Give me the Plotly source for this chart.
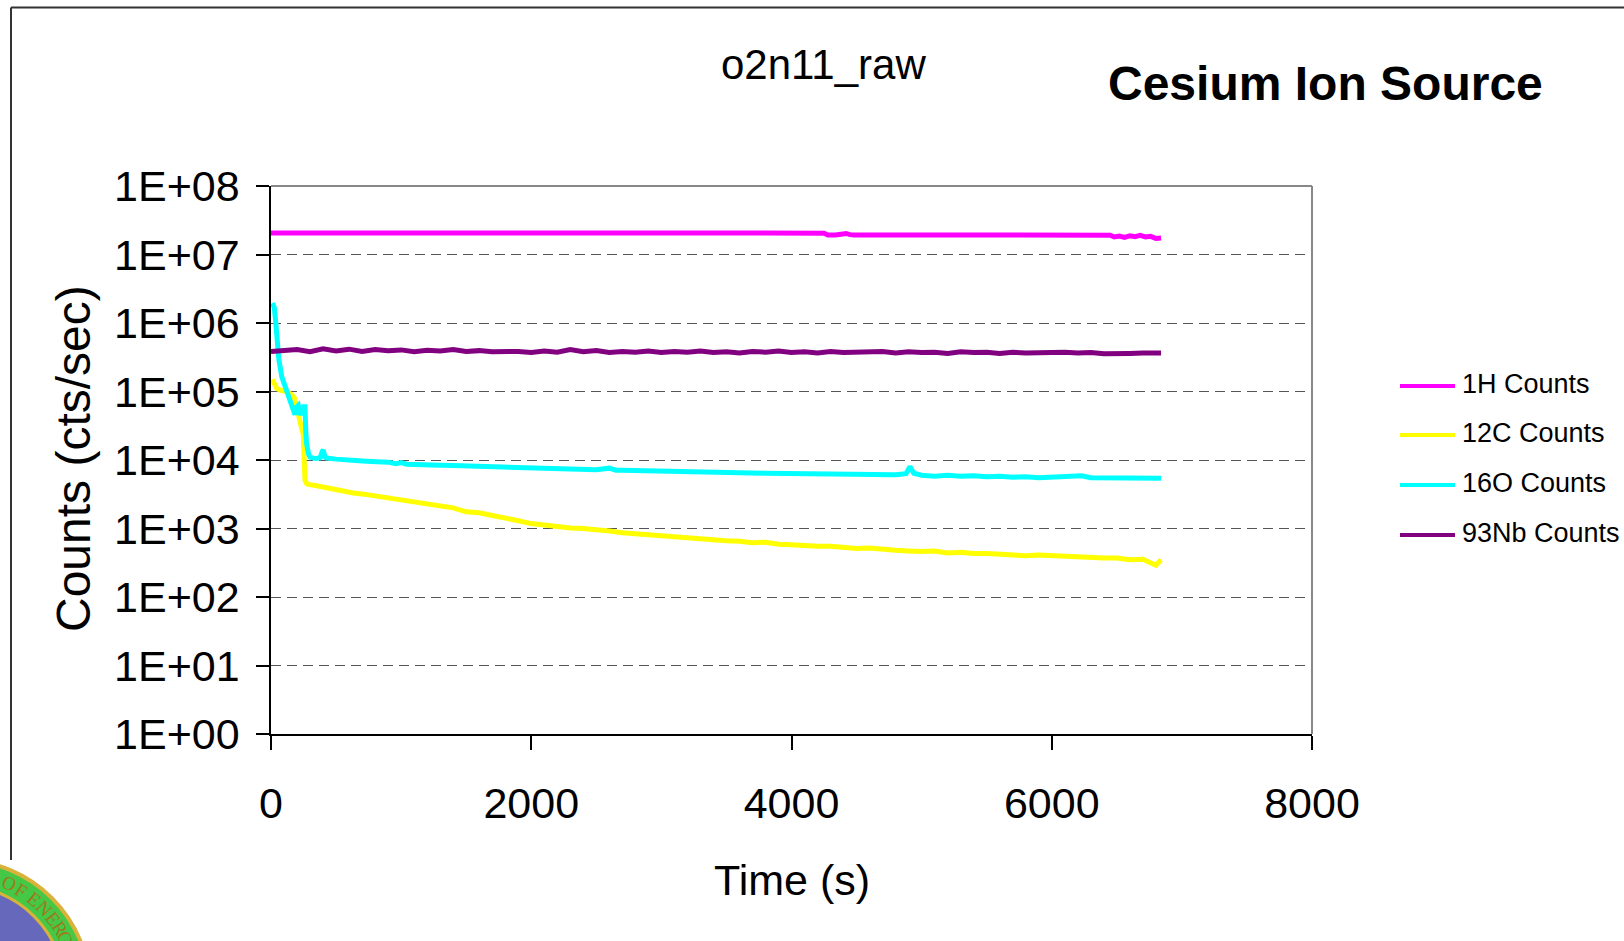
import math
import plotly.graph_objects as go

# ---- series data (time in s, counts in cts/sec) ----
t_h = [0, 500, 1000, 1500, 2000, 2500, 3000, 3500, 4000, 4250, 4280, 4310, 4340,
       4380, 4420, 4450, 4480, 5000, 5500, 6000, 6450, 6480, 6520, 6560, 6600,
       6640, 6680, 6720, 6760, 6800, 6840]
h_counts = [2.06e7, 2.06e7, 2.06e7, 2.05e7, 2.05e7, 2.05e7, 2.05e7, 2.05e7, 2.05e7,
            2.05e7, 1.93e7, 1.97e7, 1.93e7, 1.98e7, 2.03e7, 1.95e7, 1.93e7, 1.93e7,
            1.92e7, 1.92e7, 1.91e7, 1.80e7, 1.86e7, 1.78e7, 1.88e7, 1.82e7, 1.90e7,
            1.80e7, 1.84e7, 1.72e7, 1.74e7]

t_c = [10, 25, 45, 69, 120, 159, 180, 197, 212, 223, 235, 248, 255, 261, 275, 287,
       350, 428, 500, 560, 632, 700, 800, 939, 1000, 1100, 1200, 1300, 1400, 1500,
       1600, 1700, 1800, 1900, 2000, 2100, 2200, 2300, 2400, 2500, 2600, 2700, 2800,
       2900, 3000, 3100, 3200, 3300, 3400, 3500, 3600, 3700, 3800, 3900, 4000, 4100,
       4200, 4300, 4400, 4500, 4600, 4700, 4800, 4900, 5000, 5100, 5200, 5300, 5400,
       5500, 5600, 5700, 5800, 5900, 6000, 6100, 6200, 6300, 6400, 6500, 6600, 6700,
       6760, 6800, 6840]
c_counts = [1.5e5, 1.3e5, 1.1e5, 1.05e5, 1.0e5, 9.0e4, 8.0e4, 6.0e4, 4.2e4, 3.2e4,
            2.9e4, 2.4e4, 1.2e4, 5.1e3, 4.5e3, 4.4e3, 4.2e3, 3.9e3, 3.8e3, 3.5e3,
            3.3e3, 3.2e3, 3.0e3, 2.8e3, 2.65e3, 2.45e3, 2.35e3, 2.15e3, 2.0e3, 1.75e3,
            1.7e3, 1.55e3, 1.45e3, 1.3e3, 1.18e3, 1.12e3, 1.08e3, 1.02e3, 1.0e3, 9.4e2,
            9.2e2, 8.7e2, 8.4e2, 8.0e2, 7.6e2, 7.5e2, 7.2e2, 7.0e2, 6.8e2, 6.6e2, 6.5e2,
            6.2e2, 6.3e2, 5.9e2, 5.8e2, 5.6e2, 5.5e2, 5.5e2, 5.2e2, 5.1e2, 5.2e2, 4.9e2,
            4.8e2, 4.7e2, 4.6e2, 4.7e2, 4.4e2, 4.5e2, 4.3e2, 4.3e2, 4.2e2, 4.2e2, 4.0e2,
            4.1e2, 4.0e2, 3.9e2, 3.8e2, 3.8e2, 3.7e2, 3.7e2, 3.5e2, 3.55e2, 3.2e2,
            2.9e2, 3.5e2]

t_o = [10, 25, 35, 45, 60, 82, 100, 120, 150, 170, 184, 198, 210, 225, 236, 250, 261,
       268, 274, 290, 300, 340, 377, 395, 402, 415, 428, 500, 553, 650, 735, 800, 900,
       960, 1000, 1043, 1100, 1200, 1300, 1400, 1500, 1600, 1700, 1800, 1900, 2000,
       2100, 2200, 2300, 2400, 2500, 2600, 2650, 2700, 2800, 2900, 3000, 3200, 3400,
       3600, 3800, 4000, 4200, 4400, 4600, 4800, 4880, 4910, 4940, 5000, 5100, 5200,
       5300, 5400, 5500, 5600, 5700, 5800, 5900, 6000, 6100, 6230, 6300, 6400, 6500,
       6600, 6700, 6840]
o_counts = [1.95e6, 1.7e6, 1.1e6, 5.6e5, 3.0e5, 1.66e5, 1.3e5, 1.05e5, 6.5e4, 5.0e4,
            4.6e4, 6.0e4, 6.3e4, 4.8e4, 4.8e4, 6.0e4, 6.0e4, 2.5e4, 1.7e4, 1.2e4,
            1.1e4, 1.05e4, 1.07e4, 1.35e4, 1.4e4, 1.1e4, 1.07e4, 1.03e4, 1.0e4, 9.8e3,
            9.6e3, 9.5e3, 9.3e3, 8.8e3, 9.2e3, 8.7e3, 8.7e3, 8.5e3, 8.4e3, 8.3e3, 8.2e3,
            8.1e3, 8.0e3, 7.8e3, 7.9e3, 7.6e3, 7.6e3, 7.5e3, 7.4e3, 7.3e3, 7.2e3, 7.6e3,
            7.1e3, 7.1e3, 7.0e3, 6.9e3, 6.9e3, 6.8e3, 6.6e3, 6.5e3, 6.4e3, 6.3e3, 6.3e3,
            6.2e3, 6.1e3, 6.1e3, 6.3e3, 8.0e3, 6.4e3, 6.0e3, 5.8e3, 6.0e3, 5.8e3, 5.9e3,
            5.7e3, 5.8e3, 5.6e3, 5.7e3, 5.5e3, 5.6e3, 5.6e3, 5.9e3, 5.5e3, 5.5e3, 5.4e3,
            5.45e3, 5.4e3, 5.4e3]

t_nb = [0, 100, 200, 300, 400, 500, 600, 700, 800, 900, 1000, 1100, 1200, 1300, 1400,
        1500, 1600, 1700, 1800, 1900, 2000, 2100, 2200, 2300, 2400, 2500, 2600, 2700,
        2800, 2900, 3000, 3100, 3200, 3300, 3400, 3500, 3600, 3700, 3800, 3900, 4000,
        4100, 4200, 4300, 4400, 4500, 4600, 4700, 4800, 4900, 5000, 5100, 5200, 5300,
        5400, 5500, 5600, 5700, 5800, 5900, 6000, 6100, 6200, 6300, 6400, 6500, 6600,
        6700, 6800, 6840]
nb_counts = [3.85e5, 3.9e5, 4.1e5, 3.8e5, 4.2e5, 3.9e5, 4.15e5, 3.85e5, 4.1e5, 3.95e5,
             4.05e5, 3.8e5, 4.0e5, 3.9e5, 4.1e5, 3.85e5, 3.95e5, 3.8e5, 3.9e5, 3.85e5,
             3.7e5, 3.9e5, 3.75e5, 4.1e5, 3.8e5, 3.95e5, 3.7e5, 3.85e5, 3.75e5, 3.9e5,
             3.7e5, 3.85e5, 3.75e5, 3.9e5, 3.7e5, 3.8e5, 3.65e5, 3.85e5, 3.75e5, 3.9e5,
             3.7e5, 3.8e5, 3.65e5, 3.85e5, 3.7e5, 3.8e5, 3.75e5, 3.85e5, 3.65e5, 3.8e5,
             3.7e5, 3.75e5, 3.6e5, 3.8e5, 3.7e5, 3.75e5, 3.6e5, 3.75e5, 3.65e5, 3.7e5,
             3.6e5, 3.75e5, 3.65e5, 3.7e5, 3.55e5, 3.65e5, 3.6e5, 3.65e5, 3.6e5, 3.65e5]

series_names = ["1H Counts", "12C Counts", "16O Counts", "93Nb Counts"]
series_colors = ["#FF00FF", "#FFFF00", "#00FFFF", "#800080"]
series_t = [t_h, t_c, t_o, t_nb]
series_y = [h_counts, c_counts, o_counts, nb_counts]

y_tickvals = [1, 10, 100, 1e3, 1e4, 1e5, 1e6, 1e7, 1e8]
y_ticktext = ["1E+00", "1E+01", "1E+02", "1E+03", "1E+04", "1E+05", "1E+06", "1E+07", "1E+08"]
x_tickvals = [0, 2000, 4000, 6000, 8000]
x_ticktext = ["0", "2000", "4000", "6000", "8000"]

# ---- page geometry ----
W, H = 1624, 941
PL, PR, PT, PB = 271, 1312, 186, 734
FONT = "Liberation Sans, Arial, sans-serif"


def px(x):
    return (x - PL) / (PR - PL)


def py(y):
    return (PB - y) / (PB - PT)


fig = go.Figure()
for name, color, tt, yy in zip(series_names, series_colors, series_t, series_y):
    fig.add_trace(go.Scatter(x=tt, y=yy, mode="lines", name=name,
                             line=dict(color=color, width=5), showlegend=False))

shapes = []
annotations = []

# grey top/right plot border
shapes.append(dict(type="line", xref="paper", yref="paper", x0=0, x1=1, y0=1, y1=1,
                   line=dict(color="#888888", width=2)))
shapes.append(dict(type="line", xref="paper", yref="paper", x0=1, x1=1, y0=0, y1=1,
                   line=dict(color="#888888", width=2)))

# outer chart frame
shapes.append(dict(type="line", xref="paper", yref="paper", x0=px(11), x1=px(1624),
                   y0=py(7.5), y1=py(7.5), line=dict(color="#333333", width=2)))
shapes.append(dict(type="line", xref="paper", yref="paper", x0=px(11), x1=px(11),
                   y0=py(7.5), y1=py(860), line=dict(color="#333333", width=2)))

# legend
leg_y = [386, 435, 485, 535]
for name, color, ly in zip(series_names, series_colors, leg_y):
    shapes.append(dict(type="line", xref="paper", yref="paper", x0=px(1400), x1=px(1455),
                       y0=py(ly), y1=py(ly), line=dict(color=color, width=4)))
    annotations.append(dict(text=name, xref="paper", yref="paper", x=px(1460), y=py(ly - 2),
                            xanchor="left", yanchor="middle", showarrow=False,
                            font=dict(family=FONT, size=27, color="black")))

# seal in the lower-left corner
cx, cy = -40, 990
for r, col in [(132, "#D9B23A"), (128, "#45C845"), (106, "#D9B23A"), (103, "#6668BC")]:
    shapes.append(dict(type="circle", xref="paper", yref="paper", layer="above",
                       x0=px(cx - r), x1=px(cx + r), y0=py(cy + r), y1=py(cy - r),
                       fillcolor=col, line=dict(width=0)))
seal_letters = ["O", "F", "E", "N", "E", "R", "G"]
seal_angles = [25, 31.5, 39.5, 46, 52.5, 58.5, 64]
for ch, ang in zip(seal_letters, seal_angles):
    a = math.radians(ang)
    lx = cx + 117 * math.sin(a)
    ly = cy - 117 * math.cos(a)
    annotations.append(dict(text=ch, xref="paper", yref="paper", x=px(lx), y=py(ly),
                            xanchor="center", yanchor="middle", showarrow=False,
                            textangle=ang,
                            font=dict(family="Liberation Serif, serif", size=19,
                                      color="#9C7A1C")))

# titles
annotations.append(dict(text="o2n11_raw", xref="paper", yref="paper", x=px(823), y=py(65),
                        xanchor="center", yanchor="middle", showarrow=False,
                        font=dict(family=FONT, size=42, color="black")))
annotations.append(dict(text="<b>Cesium Ion Source</b>", xref="paper", yref="paper",
                        x=px(1325), y=py(83), xanchor="center", yanchor="middle",
                        showarrow=False, font=dict(family=FONT, size=48, color="black")))
annotations.append(dict(text="Time (s)", xref="paper", yref="paper", x=px(792), y=py(880),
                        xanchor="center", yanchor="middle", showarrow=False,
                        font=dict(family=FONT, size=43, color="black")))
annotations.append(dict(text="Counts (cts/sec)", xref="paper", yref="paper", x=px(73),
                        y=py(459), xanchor="center", yanchor="middle", showarrow=False,
                        textangle=-90, font=dict(family=FONT, size=48, color="black")))

fig.update_layout(
    width=W, height=H,
    margin=dict(l=PL, r=W - PR, t=PT, b=H - PB, pad=0),
    paper_bgcolor="white", plot_bgcolor="white",
    shapes=shapes, annotations=annotations,
    showlegend=False,
)
fig.update_xaxes(range=[0, 8000], tickvals=x_tickvals, ticktext=x_ticktext,
                 showgrid=False, zeroline=False, showline=True, linecolor="black",
                 linewidth=1.5, ticks="outside", ticklen=14, tickcolor="black",
                 tickwidth=1.5, ticklabelstandoff=17,
                 tickfont=dict(family=FONT, size=43, color="black"))
fig.update_yaxes(type="log", range=[0, 8], tickvals=y_tickvals, ticktext=y_ticktext,
                 showgrid=True, gridcolor="#555555", gridwidth=1.3, griddash="10px,6px",
                 zeroline=False, showline=True, linecolor="black", linewidth=1.5,
                 ticks="outside", ticklen=13, tickcolor="black", tickwidth=1.5,
                 ticklabelstandoff=8,
                 tickfont=dict(family=FONT, size=43, color="black"))

fig.write_html("out.html")
